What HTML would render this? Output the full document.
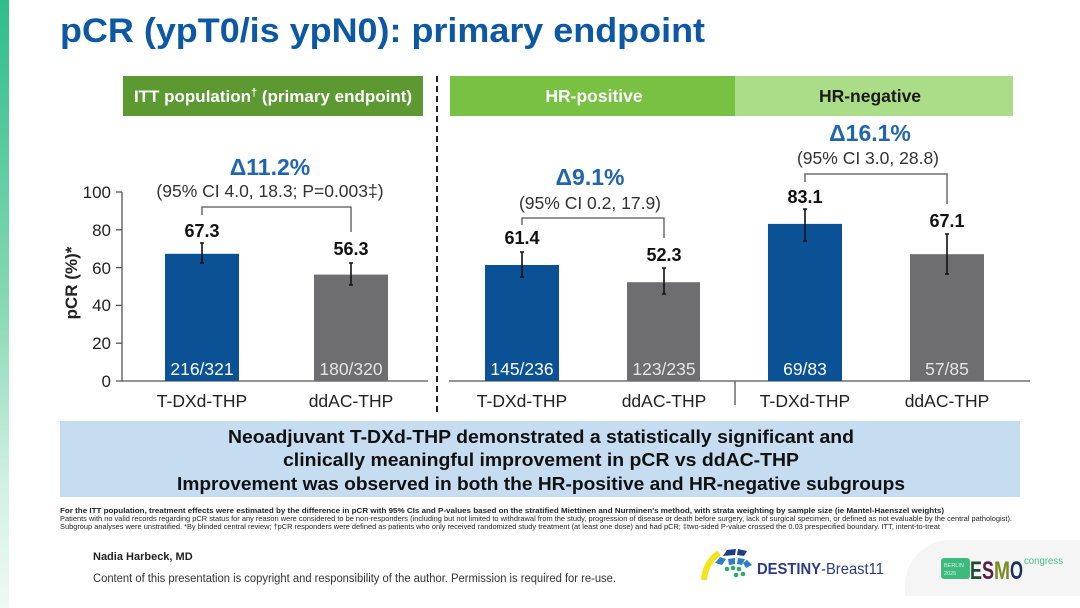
<!DOCTYPE html>
<html><head><meta charset="utf-8"><style>
html,body{margin:0;padding:0;background:#fff;}
svg{display:block;}
text{font-family:"Liberation Sans",Arial,sans-serif;}
</style></head><body>
<svg width="1080" height="608" viewBox="0 0 1080 608" xmlns="http://www.w3.org/2000/svg">
<defs>
<linearGradient id="edge" x1="0" y1="0" x2="0" y2="1">
<stop offset="0" stop-color="#2fbd8a"/><stop offset="0.5" stop-color="#86d9b4"/><stop offset="0.8" stop-color="#d3f1e3"/><stop offset="1" stop-color="#eefaf4"/>
</linearGradient>
</defs>
<rect width="1080" height="608" fill="#fff"/>
<rect x="0" y="0" width="9" height="608" fill="url(#edge)"/>

<!-- bottom right rounded region -->
<path d="M905,596 V585 A45,45 0 0 1 950,540 H1080 V596 Z" fill="#f4f5f4"/>

<!-- title -->
<text x="60" y="42" font-size="34" font-weight="bold" fill="#0d58a4" textLength="645" lengthAdjust="spacingAndGlyphs">pCR (ypT0/is ypN0): primary endpoint</text>

<!-- headers -->
<rect x="123" y="76" width="300" height="40" fill="#5c9a31"/>
<text x="273" y="102" text-anchor="middle" font-size="17" font-weight="bold" fill="#fff">ITT population<tspan font-size="11" dy="-6">†</tspan><tspan dy="6"> (primary endpoint)</tspan></text>
<rect x="450" y="76" width="285" height="40" fill="#78c142"/>
<rect x="735" y="76" width="278" height="40" fill="#abdc88"/>
<text x="594" y="102" text-anchor="middle" font-size="17.5" font-weight="bold" fill="#fff">HR-positive</text>
<text x="870" y="102" text-anchor="middle" font-size="17.5" font-weight="bold" fill="#1a1a1a">HR-negative</text>

<!-- dashed separator -->
<line x1="437" y1="76" x2="437" y2="416" stroke="#222" stroke-width="2" stroke-dasharray="6,4"/>

<!-- left y axis -->
<g stroke="#555" stroke-width="1.3" fill="none">
<line x1="122" y1="192" x2="122" y2="381"/>
<line x1="116" y1="192" x2="122" y2="192"/>
<line x1="116" y1="229.8" x2="122" y2="229.8"/>
<line x1="116" y1="267.6" x2="122" y2="267.6"/>
<line x1="116" y1="305.4" x2="122" y2="305.4"/>
<line x1="116" y1="343.2" x2="122" y2="343.2"/>
<line x1="116" y1="381" x2="428" y2="381"/>
<line x1="449" y1="381" x2="1030" y2="381"/>
<line x1="735" y1="381" x2="735" y2="405"/>
</g>
<g font-size="17" fill="#222" text-anchor="end">
<text x="111" y="198">100</text>
<text x="111" y="236">80</text>
<text x="111" y="274">60</text>
<text x="111" y="311">40</text>
<text x="111" y="349">20</text>
<text x="111" y="387">0</text>
</g>
<text transform="translate(77,283) rotate(-90)" text-anchor="middle" font-size="17" font-weight="bold" fill="#222">pCR (%)*</text>

<!-- bars -->
<rect x="165" y="253.8" width="74" height="127.2" fill="#0b5196"/>
<rect x="314" y="274.6" width="74" height="106.4" fill="#6e6e70"/>
<rect x="485" y="265" width="74" height="116" fill="#0b5196"/>
<rect x="627" y="282.2" width="73" height="98.8" fill="#6e6e70"/>
<rect x="768" y="223.9" width="74" height="157.1" fill="#0b5196"/>
<rect x="910" y="254.2" width="74" height="126.8" fill="#6e6e70"/>

<!-- error bars -->
<g stroke="#111" stroke-width="1.6" fill="none">
<path d="M202,243 V263 M200,243 H204 M200,263 H204"/>
<path d="M351,263 V285 M349,263 H353 M349,285 H353"/>
<path d="M522,252 V277 M520,252 H524 M520,277 H524"/>
<path d="M664,268 V294 M662,268 H666 M662,294 H666"/>
<path d="M805,209 V241 M803,209 H807 M803,241 H807"/>
<path d="M947,234 V274 M945,234 H949 M945,274 H949"/>
</g>

<!-- brackets -->
<g stroke="#555" stroke-width="1.3" fill="none">
<path d="M202,215 V207 H351 V232"/>
<path d="M522,225 V218 H664 V238"/>
<path d="M805,182 V174 H947 V204"/>
</g>

<!-- value labels -->
<g font-size="18" font-weight="bold" fill="#111" text-anchor="middle">
<text x="202" y="237">67.3</text>
<text x="351" y="255">56.3</text>
<text x="522" y="244">61.4</text>
<text x="664" y="261">52.3</text>
<text x="805" y="203">83.1</text>
<text x="947" y="227">67.1</text>
</g>

<!-- delta texts -->
<g font-size="23" font-weight="bold" fill="#1f65b0" text-anchor="middle">
<text x="270" y="175">Δ11.2%</text>
<text x="590" y="185">Δ9.1%</text>
<text x="870" y="141">Δ16.1%</text>
</g>
<g font-size="17.5" fill="#333" text-anchor="middle">
<text x="270" y="197">(95% CI 4.0, 18.3; P=0.003‡)</text>
<text x="590" y="209">(95% CI 0.2, 17.9)</text>
<text x="868" y="164">(95% CI 3.0, 28.8)</text>
</g>

<!-- inner bar labels -->
<g font-size="17.5" text-anchor="middle">
<text x="202" y="375" fill="#fff">216/321</text>
<text x="351" y="375" fill="#e4e4e4">180/320</text>
<text x="522" y="375" fill="#fff">145/236</text>
<text x="664" y="375" fill="#e4e4e4">123/235</text>
<text x="805" y="375" fill="#fff">69/83</text>
<text x="947" y="375" fill="#e4e4e4">57/85</text>
</g>

<!-- x labels -->
<g font-size="17.5" fill="#222" text-anchor="middle">
<text x="202" y="407">T-DXd-THP</text>
<text x="351" y="407">ddAC-THP</text>
<text x="522" y="407">T-DXd-THP</text>
<text x="664" y="407">ddAC-THP</text>
<text x="805" y="407">T-DXd-THP</text>
<text x="947" y="407">ddAC-THP</text>
</g>

<!-- summary box -->
<rect x="60" y="421" width="960" height="76" fill="#c6dcf1"/>
<g font-size="18" font-weight="bold" fill="#111" text-anchor="middle">
<text x="541" y="443" textLength="626" lengthAdjust="spacingAndGlyphs">Neoadjuvant T-DXd-THP demonstrated a statistically significant and</text>
<text x="541" y="466" textLength="516" lengthAdjust="spacingAndGlyphs">clinically meaningful improvement in pCR vs ddAC-THP</text>
<text x="541" y="490" textLength="728" lengthAdjust="spacingAndGlyphs">Improvement was observed in both the HR-positive and HR-negative subgroups</text>
</g>

<!-- footnotes -->
<text x="60" y="513" font-size="7.5" font-weight="bold" fill="#222" textLength="884" lengthAdjust="spacingAndGlyphs">For the ITT population, treatment effects were estimated by the difference in pCR with 95% CIs and P-values based on the stratified Miettinen and Nurminen's method, with strata weighting by sample size (ie Mantel-Haenszel weights)</text>
<text x="60" y="521" font-size="7.5" fill="#222" textLength="952" lengthAdjust="spacingAndGlyphs">Patients with no valid records regarding pCR status for any reason were considered to be non-responders (including but not limited to withdrawal from the study, progression of disease or death before surgery, lack of surgical specimen, or defined as not evaluable by the central pathologist).</text>
<text x="60" y="529" font-size="7.5" fill="#222" textLength="880" lengthAdjust="spacingAndGlyphs">Subgroup analyses were unstratified. *By blinded central review; †pCR responders were defined as patients who only received randomized study treatment (at least one dose) and had pCR; ‡two-sided P-value crossed the 0.03 prespecified boundary. ITT, intent-to-treat</text>

<text x="93" y="560" font-size="11" font-weight="bold" fill="#222">Nadia Harbeck, MD</text>
<text x="93" y="582" font-size="11.5" fill="#333" textLength="523" lengthAdjust="spacingAndGlyphs">Content of this presentation is copyright and responsibility of the author. Permission is required for re-use.</text>

<!-- DESTINY logo -->
<path d="M704,580 Q705,563 719,553" stroke="#f2e31b" stroke-width="6" fill="none"/>
<path d="M723,556 L727,550 L736,549 L735,555 Z" fill="#1f3c88"/>
<path d="M738,549 L747,551 L744,556 L737,555 Z" fill="#1f3c88"/>
<path d="M715,563 L720,557 L726,559 L722,565 Z" fill="#2d7fc4"/>
<path d="M728,559 L735,558 L735,564 L729,565 Z" fill="#2d7fc4"/>
<path d="M738,558 L745,559 L742,565 L737,564 Z" fill="#2d7fc4"/>
<path d="M747,560 L752,565 L746,568 L743,563 Z" fill="#2d7fc4"/>
<circle cx="727" cy="569" r="2.3" fill="#2aa96b"/>
<circle cx="733" cy="568" r="2.3" fill="#2aa96b"/>
<circle cx="739" cy="569" r="2.3" fill="#2aa96b"/>
<circle cx="743" cy="574" r="2.3" fill="#2aa96b"/>
<circle cx="736" cy="575" r="2.3" fill="#2aa96b"/>
<text x="757" y="574" font-size="16" fill="#2e3b84" textLength="127" lengthAdjust="spacingAndGlyphs"><tspan font-weight="bold">DESTINY</tspan>-Breast11</text>

<!-- ESMO logo -->
<rect x="941" y="558" width="29" height="21" rx="3" fill="#3dbb7e"/>
<text x="944" y="567" font-size="5.5" fill="#d9f3e6">BERLIN</text>
<text x="944" y="575" font-size="5.5" fill="#d9f3e6">2025</text>
<g font-size="25" font-weight="bold">
<text x="970" y="579" fill="#1f4a2d" textLength="12" lengthAdjust="spacingAndGlyphs">E</text>
<text x="982" y="579" fill="#5b1f47" textLength="12" lengthAdjust="spacingAndGlyphs">S</text>
<text x="994" y="579" fill="#7b8c22" textLength="16" lengthAdjust="spacingAndGlyphs">M</text>
<text x="1010" y="579" fill="#1b2f5e" textLength="13" lengthAdjust="spacingAndGlyphs">O</text>
</g>
<text x="1024" y="564" font-size="10.5" fill="#48b98a" textLength="39" lengthAdjust="spacingAndGlyphs">congress</text>
</svg>
</body></html>
